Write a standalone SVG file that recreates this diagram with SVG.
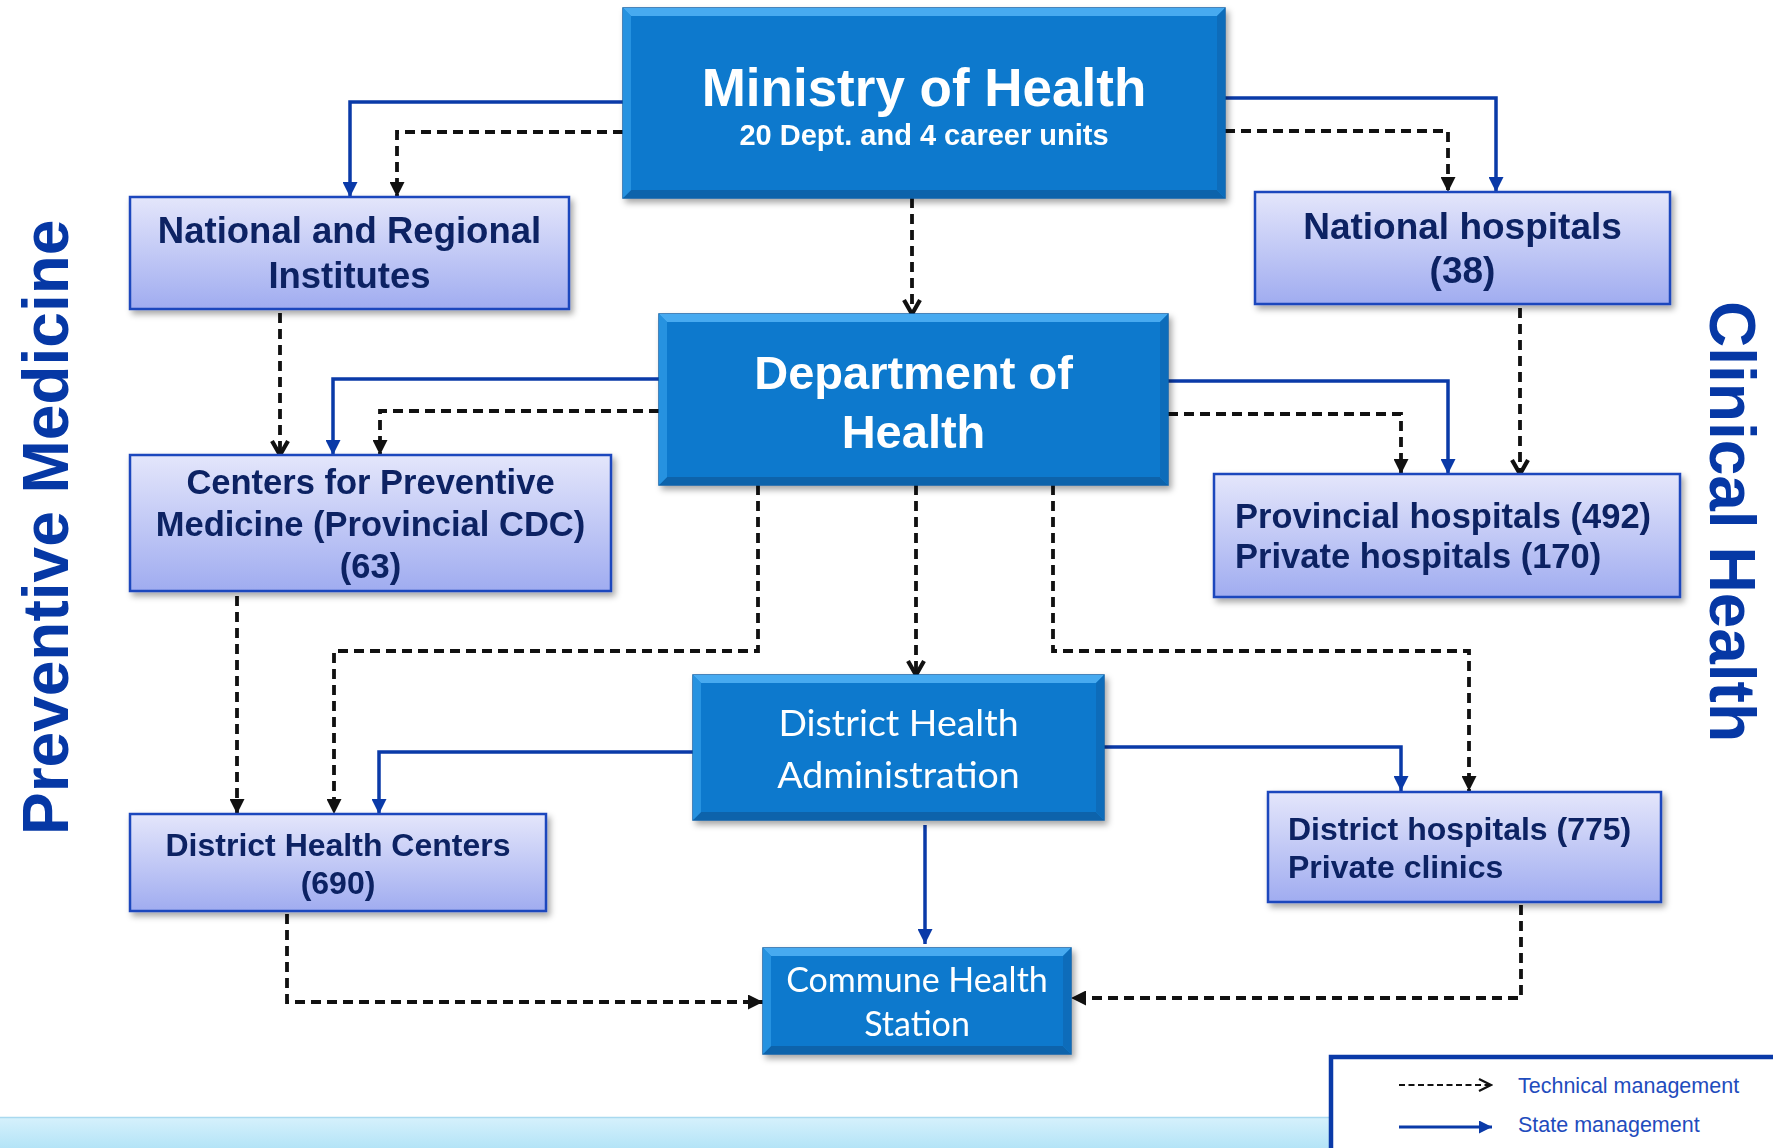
<svg xmlns="http://www.w3.org/2000/svg" width="1773" height="1148" viewBox="0 0 1773 1148">
<defs>
<style>
.bev-out{fill:#1c88d9;stroke:#0b5fa6;stroke-width:1.5}
.bev-top{fill:#47aaf0}
.bev-bot{fill:#0863ab}
.bev-l{fill:#2792e0}
.bev-r{fill:#0b6cba}
.bev-in{fill:#0879cd}
.lbox{fill:url(#lg);stroke:#1a47bd;stroke-width:2.5}
.ttl{font-family:"Liberation Sans",Arial,sans-serif;font-weight:bold;fill:#ffffff;text-anchor:middle}
.cal{font-family:Lato,"Open Sans",sans-serif;fill:#ffffff;text-anchor:middle}
.nv{font-family:"Liberation Sans",Arial,sans-serif;font-weight:bold;fill:#0b2463}
.side{font-family:"Liberation Sans",Arial,sans-serif;font-weight:bold;fill:#0638a5;font-size:64px}
.st{fill:none;stroke:#0a3aa8;stroke-width:3.5}
.tc{fill:none;stroke:#111111;stroke-width:3.8;stroke-dasharray:10 6}
.leg{font-family:"Liberation Sans",Arial,sans-serif;fill:#1f4cbd;font-size:21.5px}
</style>
<linearGradient id="lg" x1="0" y1="0" x2="0" y2="1">
<stop offset="0" stop-color="#e4e6fb"/>
<stop offset="1" stop-color="#a0acf0"/>
</linearGradient>
<linearGradient id="band" x1="0" y1="0" x2="0" y2="1">
<stop offset="0" stop-color="#d6f1fc"/>
<stop offset="1" stop-color="#b4e4f7"/>
</linearGradient>
<filter id="sh" x="-5%" y="-5%" width="115%" height="125%">
<feDropShadow dx="3" dy="4" stdDeviation="3" flood-color="#000" flood-opacity="0.35"/>
</filter>
<marker id="ab" markerUnits="userSpaceOnUse" viewBox="0 0 15 15" refX="15" refY="7.5" markerWidth="15" markerHeight="15" orient="auto">
<path d="M0,0 L15,7.5 L0,15 z" fill="#0a3aa8"/>
</marker>
<marker id="ak" markerUnits="userSpaceOnUse" viewBox="0 0 15 15" refX="15" refY="7.5" markerWidth="15" markerHeight="15" orient="auto">
<path d="M0,0 L15,7.5 L0,15 z" fill="#111111"/>
</marker>
<marker id="ao" markerUnits="userSpaceOnUse" viewBox="0 0 20 20" refX="17" refY="10" markerWidth="20" markerHeight="20" orient="auto">
<path d="M3,2 L17,10 L3,18" fill="none" stroke="#111111" stroke-width="4.2"/>
</marker>
<marker id="ab2" markerUnits="userSpaceOnUse" viewBox="0 0 13 13" refX="13" refY="6.5" markerWidth="13" markerHeight="13" orient="auto">
<path d="M0,0 L13,6.5 L0,13 z" fill="#0a3aa8"/>
</marker>
<marker id="lo" markerUnits="userSpaceOnUse" viewBox="0 0 16 16" refX="14" refY="8" markerWidth="16" markerHeight="16" orient="auto">
<path d="M2,2 L14,8 L2,14" fill="none" stroke="#111111" stroke-width="2.2"/>
</marker>
</defs>
<rect x="0" y="0" width="1773" height="1148" fill="#ffffff"/>
<rect x="0" y="1117" width="1773" height="31" fill="url(#band)"/>
<line x1="0" y1="1117.5" x2="1773" y2="1117.5" stroke="#a9d9ef" stroke-width="1.5"/>

<g id="connectors">
<path class="st" d="M623,102 L350,102 L350,197" marker-end="url(#ab)"/>
<path class="tc" d="M623,132 L397,132 L397,197" marker-end="url(#ak)"/>
<path class="st" d="M1225,98 L1496,98 L1496,192" marker-end="url(#ab)"/>
<path class="tc" d="M1225,131 L1448,131 L1448,192" marker-end="url(#ak)"/>
<path class="tc" d="M912,198 L912,314" marker-end="url(#ao)"/>
<path class="tc" d="M280,313 L280,455" marker-end="url(#ao)"/>
<path class="tc" d="M1520,308 L1520,474" marker-end="url(#ao)"/>
<path class="st" d="M659,379 L333,379 L333,455" marker-end="url(#ab)"/>
<path class="tc" d="M659,411 L380,411 L380,455" marker-end="url(#ak)"/>
<path class="st" d="M1168,381 L1448,381 L1448,474" marker-end="url(#ab)"/>
<path class="tc" d="M1168,414 L1401,414 L1401,474" marker-end="url(#ak)"/>
<path class="tc" d="M758,485 L758,651 L334,651 L334,814" marker-end="url(#ak)"/>
<path class="tc" d="M916,485 L916,675" marker-end="url(#ao)"/>
<path class="tc" d="M1053,485 L1053,651 L1469,651 L1469,791" marker-end="url(#ak)"/>
<path class="tc" d="M237,596 L237,814" marker-end="url(#ak)"/>
<path class="st" d="M693,752 L379,752 L379,814" marker-end="url(#ab)"/>
<path class="st" d="M1104,747 L1401,747 L1401,791" marker-end="url(#ab)"/>
<path class="st" d="M925,825 L925,944" marker-end="url(#ab)"/>
<path class="tc" d="M287,914 L287,1002 L763,1002" marker-end="url(#ak)"/>
<path class="tc" d="M1521,905 L1521,998 L1071,998" marker-end="url(#ak)"/>
</g>

<g id="ministry" filter="url(#sh)">
<rect class="bev-out" x="623" y="8" width="602" height="190"/>
<polygon class="bev-top" points="623,8 1225,8 1217,16 631,16"/>
<polygon class="bev-bot" points="623,198 1225,198 1217,190 631,190"/>
<polygon class="bev-l" points="623,8 631,16 631,190 623,198"/>
<polygon class="bev-r" points="1225,8 1217,16 1217,190 1225,198"/>
<rect class="bev-in" x="631" y="16" width="586" height="174"/>
<text class="ttl" x="924" y="106" font-size="53">Ministry of Health</text>
<text class="ttl" x="924" y="145" font-size="29">20 Dept. and 4 career units</text>
</g>

<g id="national-institutes" filter="url(#sh)">
<rect class="lbox" x="130" y="197" width="439" height="112"/>
<text class="nv" x="349.5" y="243" font-size="36.5" text-anchor="middle">National and Regional</text>
<text class="nv" x="349.5" y="288" font-size="36.5" text-anchor="middle">Institutes</text>
</g>

<g id="national-hospitals" filter="url(#sh)">
<rect class="lbox" x="1255" y="192" width="415" height="112"/>
<text class="nv" x="1462.5" y="239" font-size="37" text-anchor="middle">National hospitals</text>
<text class="nv" x="1462.5" y="283" font-size="37" text-anchor="middle">(38)</text>
</g>

<g id="department" filter="url(#sh)">
<rect class="bev-out" x="659" y="314" width="509" height="171"/>
<polygon class="bev-top" points="659,314 1168,314 1160,322 667,322"/>
<polygon class="bev-bot" points="659,485 1168,485 1160,477 667,477"/>
<polygon class="bev-l" points="659,314 667,322 667,477 659,485"/>
<polygon class="bev-r" points="1168,314 1160,322 1160,477 1168,485"/>
<rect class="bev-in" x="667" y="322" width="493" height="155"/>
<text class="ttl" x="913.5" y="389" font-size="47">Department of</text>
<text class="ttl" x="913.5" y="448" font-size="47">Health</text>
</g>

<g id="cdc" filter="url(#sh)">
<rect class="lbox" x="130" y="455" width="481" height="136"/>
<text class="nv" x="370.5" y="494" font-size="34.5" text-anchor="middle">Centers for Preventive</text>
<text class="nv" x="370.5" y="536" font-size="34.5" text-anchor="middle">Medicine (Provincial CDC)</text>
<text class="nv" x="370.5" y="578" font-size="34.5" text-anchor="middle">(63)</text>
</g>

<g id="provincial-hospitals" filter="url(#sh)">
<rect class="lbox" x="1214" y="474" width="466" height="123"/>
<text class="nv" x="1235" y="528" font-size="34.5">Provincial hospitals (492)</text>
<text class="nv" x="1235" y="568" font-size="34.5">Private hospitals (170)</text>
</g>

<g id="district-admin" filter="url(#sh)">
<rect class="bev-out" x="693" y="675" width="411" height="145"/>
<polygon class="bev-top" points="693,675 1104,675 1096,683 701,683"/>
<polygon class="bev-bot" points="693,820 1104,820 1096,812 701,812"/>
<polygon class="bev-l" points="693,675 701,683 701,812 693,820"/>
<polygon class="bev-r" points="1104,675 1096,683 1096,812 1104,820"/>
<rect class="bev-in" x="701" y="683" width="395" height="129"/>
<text class="cal" x="898.5" y="736" font-size="37.5">District Health</text>
<text class="cal" x="898.5" y="788" font-size="37.5">Administration</text>
</g>

<g id="district-centers" filter="url(#sh)">
<rect class="lbox" x="130" y="814" width="416" height="97"/>
<text class="nv" x="338" y="856" font-size="32" text-anchor="middle">District Health Centers</text>
<text class="nv" x="338" y="894" font-size="32" text-anchor="middle">(690)</text>
</g>

<g id="district-hospitals" filter="url(#sh)">
<rect class="lbox" x="1268" y="792" width="393" height="110"/>
<text class="nv" x="1288" y="840" font-size="32">District hospitals (775)</text>
<text class="nv" x="1288" y="878" font-size="32">Private clinics</text>
</g>

<g id="commune" filter="url(#sh)">
<rect class="bev-out" x="763" y="948" width="308" height="106"/>
<polygon class="bev-top" points="763,948 1071,948 1063,956 771,956"/>
<polygon class="bev-bot" points="763,1054 1071,1054 1063,1046 771,1046"/>
<polygon class="bev-l" points="763,948 771,956 771,1046 763,1054"/>
<polygon class="bev-r" points="1071,948 1063,956 1063,1046 1071,1054"/>
<rect class="bev-in" x="771" y="956" width="292" height="90"/>
<text class="cal" x="917" y="992" font-size="34">Commune Health</text>
<text class="cal" x="917" y="1036" font-size="34">Station</text>
</g>

<g id="side-labels">
<text class="side" transform="translate(68,835) rotate(-90)">Preventive Medicine</text>
<text class="side" transform="translate(1710,301) rotate(90)">Clinical Health</text>
</g>

<g id="legend">
<rect x="1331" y="1057" width="470" height="110" fill="#ffffff" stroke="#0a3aa8" stroke-width="4.5"/>
<path d="M1399,1085 L1491,1085" fill="none" stroke="#111111" stroke-width="2.2" stroke-dasharray="6 3.5" marker-end="url(#lo)"/>
<path d="M1399,1127 L1492,1127" fill="none" stroke="#0a3aa8" stroke-width="3" marker-end="url(#ab2)"/>
<text class="leg" x="1518" y="1093">Technical management</text>
<text class="leg" x="1518" y="1132">State management</text>
</g>
</svg>
